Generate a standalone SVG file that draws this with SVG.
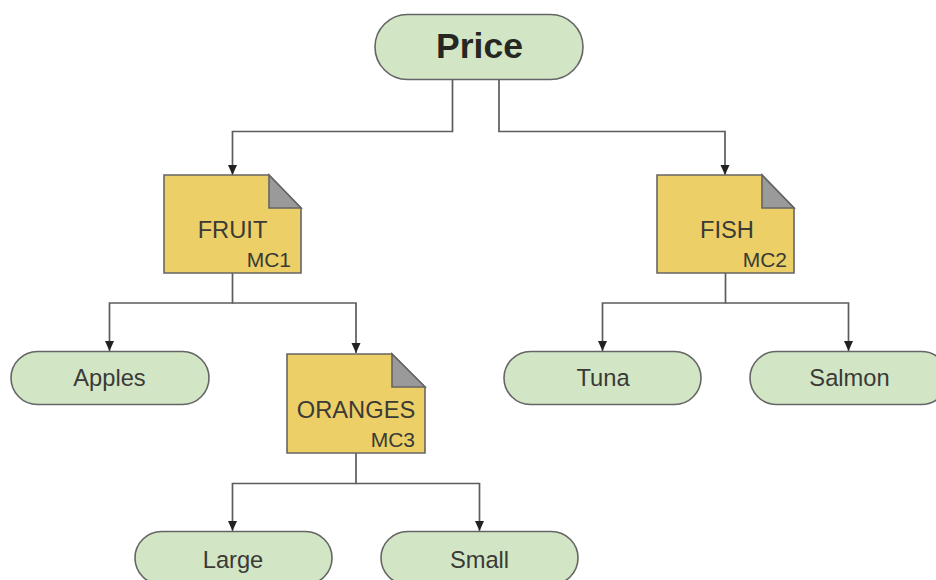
<svg xmlns="http://www.w3.org/2000/svg" width="936" height="580" viewBox="0 0 936 580">
<style>
text{font-family:"Liberation Sans",Arial,sans-serif;fill:#3a3a36;text-anchor:middle}
.t{font-size:23.700px}
.p{fill:#d2e6c6;stroke:#656565;stroke-width:1.6}
.d{fill:#eccf66;stroke:#656565;stroke-width:1.6}
.f{fill:#9a9a9a;stroke:#656565;stroke-width:1.6}
.c{fill:none;stroke:#5c5c5c;stroke-width:1.7}
.m{font-size:21px;text-anchor:end}
</style>
<defs><marker id="a" markerUnits="userSpaceOnUse" markerWidth="11" markerHeight="11" refX="10" refY="5" orient="auto"><path d="M0 0.500L10 5L0 9.500Z" fill="#222"/></marker></defs>
<rect width="936" height="580" fill="#fff"/>
<g id="connectors" class="conn">
<path class="c" d="M452.500 79V131.500H232.500V175" marker-end="url(#a)"/>
<path class="c" d="M499 79V131.500H725V175" marker-end="url(#a)"/>
<path class="c" d="M232.500 273V303H109.500V351" marker-end="url(#a)"/>
<path class="c" d="M232.500 303H356V353" marker-end="url(#a)"/>
<path class="c" d="M725.500 273V303H602.500V351" marker-end="url(#a)"/>
<path class="c" d="M725.500 303H848.500V351" marker-end="url(#a)"/>
<path class="c" d="M356 453V483.500H232.500V531" marker-end="url(#a)"/>
<path class="c" d="M356 483.500H479.500V531" marker-end="url(#a)"/>
</g>
<g id="price"><rect class="p" x="375" y="14.500" width="208" height="65" rx="32.500"/><text x="479.500" y="57.500" style="font-size:35.500px;font-weight:bold;fill:#262622">Price</text></g>
<g id="fruit"><path class="d" d="M164 175H269L301 208V273H164Z"/><path class="f" d="M269 175L301 208H269Z"/><text class="t" x="232.500" y="238">FRUIT</text><text class="m" x="291" y="266.500">MC1</text></g>
<g id="fish"><path class="d" d="M657 175H762L794 208V273H657Z"/><path class="f" d="M762 175L794 208H762Z"/><text class="t" x="727" y="238">FISH</text><text class="m" x="787" y="266.500">MC2</text></g>
<g id="oranges"><path class="d" d="M287 354H392L425 387V453H287Z"/><path class="f" d="M392 354L425 387H392Z"/><text class="t" x="356" y="418">ORANGES</text><text class="m" x="415" y="446.500">MC3</text></g>
<g id="apples"><rect class="p" x="11" y="351.500" width="198" height="53" rx="26.500"/><text class="t" x="109.500" y="386">Apples</text></g>
<g id="tuna"><rect class="p" x="504" y="351.500" width="197" height="53" rx="26.500"/><text class="t" x="603" y="386">Tuna</text></g>
<g id="salmon"><rect class="p" x="750" y="351.500" width="198" height="53" rx="26.500"/><text class="t" x="849.500" y="386">Salmon</text></g>
<g id="large"><rect class="p" x="135" y="531.500" width="197" height="53" rx="26.500"/><text class="t" x="233" y="568">Large</text></g>
<g id="small"><rect class="p" x="381" y="531.500" width="197" height="53" rx="26.500"/><text class="t" x="479.500" y="568">Small</text></g>
</svg>
